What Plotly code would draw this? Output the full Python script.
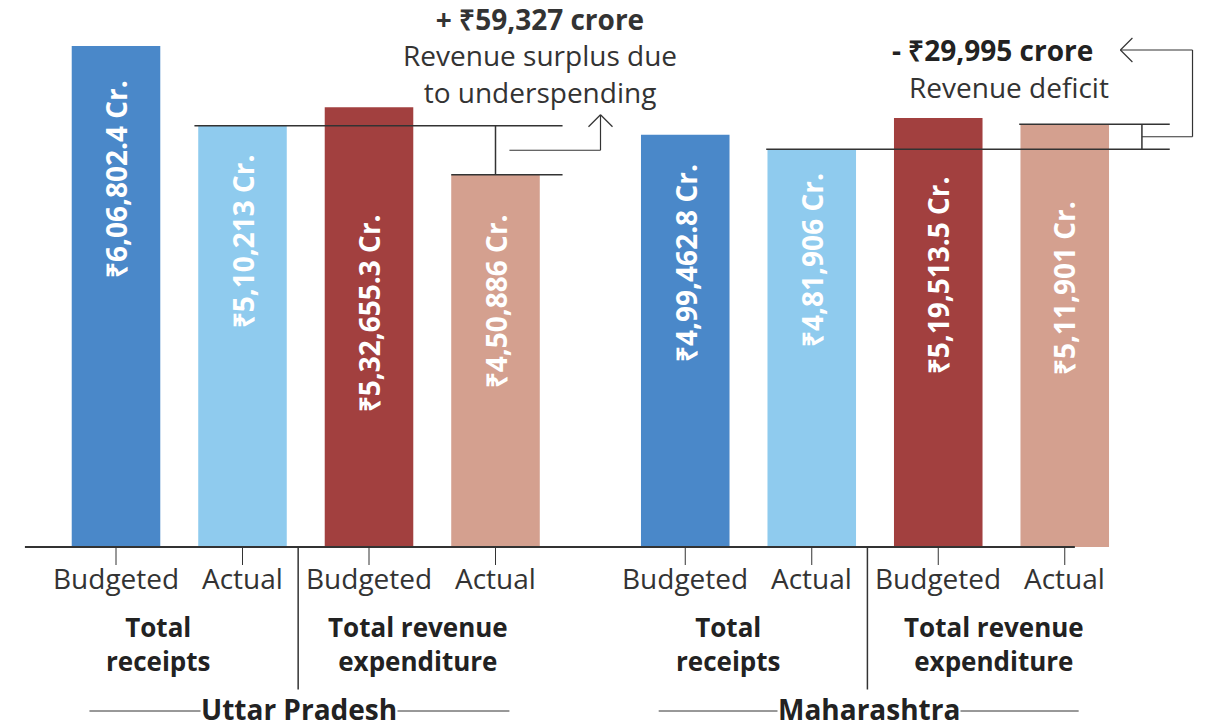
import plotly.graph_objects as go

# ---- data ----
states = ["Uttar Pradesh", "Maharashtra"]
measures = ["Total<br>receipts", "Total revenue<br>expenditure"]
kinds = ["Budgeted", "Actual"]

up_values = [606802.4, 510213, 532655.3, 450886]
mh_values = [499462.8, 481906, 519513.5, 511901]

up_labels = ["₹6,06,802.4 Cr.", "₹5,10,213 Cr.", "₹5,32,655.3 Cr.", "₹4,50,886 Cr."]
mh_labels = ["₹4,99,462.8 Cr.", "₹4,81,906 Cr.", "₹5,19,513.5 Cr.", "₹5,11,901 Cr."]

up_note = ["+ ₹59,327 crore", "Revenue surplus due<br>to underspending"]
mh_note = ["- ₹29,995 crore", "Revenue deficit"]

colors = ["#4a88c9", "#8fcbee", "#a2403f", "#d4a08f"]

# ---- layout constants (pixel values are page pixels) ----
OFF = 8                         # page body margin
W, H = 1205 - OFF, 728 - OFF    # figure size
FONT = "Open Sans"
INK = "#333333"
kx = 126.5                      # px per bar slot
BAR0_PX = 116                   # page column of the first bar centre
X0 = (OFF - BAR0_PX) / kx
X1 = X0 + W / kx
BASE_PX = 547                   # page row of the baseline
ky = 0.0008256                  # px per value unit
Y_TOP = (BASE_PX - OFF) / ky
Y_BOT = Y_TOP - H / ky

values = up_values + mh_values
labels = up_labels + mh_labels
pos = [s * 4.5 + i for s in range(2) for i in range(4)]
bar_colors = colors * 2
label_drop = [32, 27, 105, 38, 27, 22, 56, 75]   # px from bar top to label start
measure_shift = [-21, -14, -20, -8]              # px nudges of the measure captions


def py(p):   # page row -> paper y
    return 1 - (p - OFF) / H


def pxx(p):  # page column -> paper x
    return (p - OFF) / W


fig = go.Figure()
fig.add_trace(go.Bar(
    x=pos, y=values, width=0.70,
    marker=dict(color=bar_colors, line=dict(width=0)),
    hoverinfo="skip",
))

ann = []
shapes = []
line = dict(color=INK, width=1.5)

# bar value labels
for x, v, t, d in zip(pos, values, labels, label_drop):
    ann.append(dict(x=x, y=v, xref="x", yref="y", text=f"<b>{t}</b>", textangle=-90,
                    showarrow=False, xanchor="center", yanchor="top", yshift=-d,
                    font=dict(family=FONT, size=28, color="white")))

# baseline
shapes.append(dict(type="line", xref="x", yref="y", x0=-0.72, x1=7.58, y0=0, y1=0,
                   line=dict(color=INK, width=2)))

for i, x in enumerate(pos):
    # tick under each bar
    shapes.append(dict(type="line", xref="x", yref="paper", x0=x, x1=x,
                       y0=py(BASE_PX), y1=py(BASE_PX + 18), line=dict(color=INK, width=1)))
    ann.append(dict(x=x, y=py(578), xref="x", yref="paper", text=kinds[i % 2],
                    showarrow=False, xanchor="center", yanchor="middle",
                    font=dict(family=FONT, size=28, color=INK)))

for s in range(2):
    base = s * 4
    # measure captions
    for m in range(2):
        mid = (pos[base + 2 * m] + pos[base + 2 * m + 1]) / 2
        ann.append(dict(x=mid, y=py(644), xref="x", yref="paper",
                        text=f"<b>{measures[m]}</b>", showarrow=False,
                        xshift=measure_shift[2 * s + m],
                        xanchor="center", yanchor="middle",
                        font=dict(family=FONT, size=26, color="#222222")))
    # separator between the two measures
    sep = (pos[base + 1] + pos[base + 2]) / 2 - 0.06
    shapes.append(dict(type="line", xref="x", yref="paper", x0=sep, x1=sep,
                       y0=py(BASE_PX), y1=py(704), line=line))
    # state label with rule
    smid = (pos[base] + pos[base + 3]) / 2 - 0.05
    shapes.append(dict(type="line", xref="x", yref="paper", x0=smid - 1.66, x1=smid + 1.66,
                       y0=py(711), y1=py(711), line=dict(color=INK, width=1)))
    ann.append(dict(x=smid, y=py(709), xref="x", yref="paper", text=f"<b>{states[s]}</b>",
                    showarrow=False, xanchor="center", yanchor="middle",
                    bgcolor="white", borderpad=0,
                    font=dict(family=FONT, size=28, color="#222222")))


def seg(x0, y0, x1, y1, w=1.5):
    shapes.append(dict(type="line", xref="x", yref="y", x0=x0, x1=x1, y0=y0, y1=y1,
                       line=dict(color=INK, width=w)))


# Uttar Pradesh: actual receipts vs actual expenditure
ra, ea = up_values[1], up_values[3]
xe = pos[3] + 0.53
seg(pos[1] - 0.38, ra, xe, ra)
seg(pos[3] - 0.35, ea, xe, ea)
seg(pos[3], ea, pos[3], ra)
mid = (ra + ea) / 2
xa = pos[3] + 0.83
top = ra + 11 / ky
seg(pos[3] + 0.11, mid, xa, mid, 1.2)
seg(xa, mid, xa, top, 1.2)
seg(xa - 12 / kx, top - 12 / ky, xa, top, 1.2)
seg(xa + 12 / kx, top - 12 / ky, xa, top, 1.2)

ann.append(dict(x=pxx(540), y=py(56), xref="paper", yref="paper",
                text=f"<b>{up_note[0]}</b><br>{up_note[1]}",
                showarrow=False, xanchor="center", yanchor="middle", align="center",
                font=dict(family=FONT, size=28, color=INK)))

# Maharashtra: actual receipts vs actual expenditure
ra, ea = mh_values[1], mh_values[3]
xe = pos[7] + 0.83
seg(pos[5] - 0.36, ra, xe, ra)
seg(pos[7] - 0.36, ea, xe, ea)
xv = pos[7] + 0.61
seg(xv, ra, xv, ea)
mid = (ra + ea) / 2
xr = pos[7] + 1.01
ytop = (BASE_PX - 50) / ky
xt = pos[7] + 0.44
seg(xv, mid, xr, mid, 1.2)
seg(xr, mid, xr, ytop, 1.2)
seg(xr, ytop, xt, ytop, 1.2)
seg(xt + 12 / kx, ytop + 12 / ky, xt, ytop, 1.2)
seg(xt + 12 / kx, ytop - 12 / ky, xt, ytop, 1.2)

ann.append(dict(x=pxx(992), y=py(50), xref="paper", yref="paper", text=f"<b>{mh_note[0]}</b>",
                showarrow=False, xanchor="center", yanchor="middle",
                font=dict(family=FONT, size=28, color="#222222")))
ann.append(dict(x=pxx(1009), y=py(87), xref="paper", yref="paper", text=mh_note[1],
                showarrow=False, xanchor="center", yanchor="middle",
                font=dict(family=FONT, size=28, color=INK)))

fig.update_layout(
    width=W, height=H,
    margin=dict(l=0, r=0, t=0, b=0, pad=0),
    paper_bgcolor="white", plot_bgcolor="white",
    showlegend=False,
    xaxis=dict(range=[X0, X1], visible=False, fixedrange=True),
    yaxis=dict(range=[Y_BOT, Y_TOP], visible=False, fixedrange=True),
    annotations=ann, shapes=shapes,
    font=dict(family=FONT, color=INK),
)

fig.write_html("out.html")
